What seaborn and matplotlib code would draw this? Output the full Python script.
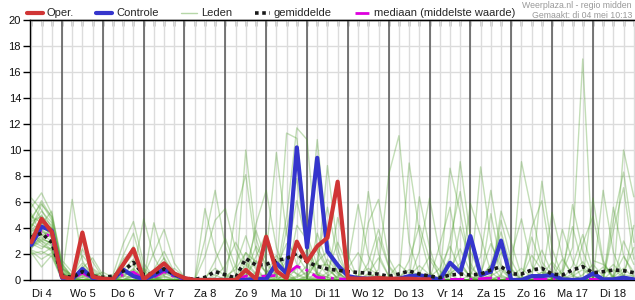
import matplotlib
matplotlib.use("Agg")
import matplotlib.pyplot as plt
import seaborn as sns
import pandas as pd
import numpy as np
from matplotlib.lines import Line2D

# ---------------- data (6-hourly steps, starting Di 4 06:00) ----------------
day_labels = ["Di 4", "Wo 5", "Do 6", "Vr 7", "Za 8", "Zo 9", "Ma 10", "Di 11",
              "Wo 12", "Do 13", "Vr 14", "Za 15", "Zo 16", "Ma 17", "Di 18"]
y_ticks = [0, 2, 4, 6, 8, 10, 12, 14, 16, 18, 20]

oper = [2.9, 4.7, 3.7, 0.25, 0.08, 3.65, 0.25, 0.1, 0.05, 1.2, 2.38, 0.05,
        0.65, 1.28, 0.5, 0.15, 0.0, 0.0, 0.0, 0.0, 0.0, 0.77, 0.08, 3.33,
        0.7, 0.13, 2.95, 1.41, 2.6, 3.25, 7.56, 0.13, 0.1, 0.1, 0.15, 0.1,
        0.1, 0.1, 0.05, 0.05]

controle = [2.7, 4.1, 3.8, 0.2, 0.05, 0.85, 0.15, 0.05, 0.05, 0.8, 0.3, 0.05,
            0.35, 0.85, 0.4, 0.1, 0.0, 0.0, 0.0, 0.0, 0.0, 0.0, 0.1, 0.05,
            1.3, 0.5, 10.2, 2.5, 9.4, 2.2, 1.15, 0.3, 0.15, 0.1, 0.1, 0.05,
            0.1, 0.3, 0.35, 0.25, 0.0, 1.33, 0.56, 3.38, 0.38, 0.64, 3.03, 0.0,
            0.0, 0.3, 0.3, 0.38, 0.05, 0.0, 0.05, 0.5, 0.05, 0.05, 0.18, 0.05]

gemiddelde = [3.3, 3.6, 2.9, 0.35, 0.2, 0.65, 0.3, 0.2, 0.3, 0.7, 1.35, 0.4,
              0.5, 0.85, 0.45, 0.15, 0.05, 0.2, 0.65, 0.4, 0.15, 1.65, 1.15, 1.2,
              1.5, 1.65, 2.05, 1.4, 1.05, 0.85, 0.75, 0.65, 0.58, 0.52, 0.45, 0.28,
              0.46, 0.69, 0.46, 0.3, 0.18, 0.38, 0.46, 0.38, 0.46, 0.77, 1.03, 0.46,
              0.46, 0.77, 0.9, 0.46, 0.38, 0.77, 1.03, 0.56, 0.64, 0.77, 0.72, 0.56]

mediaan = [3.0, 3.7, 3.3, 0.15, 0.05, 0.55, 0.1, 0.02, 0.05, 0.4, 0.6, 0.1,
           0.2, 0.65, 0.25, 0.05, 0.0, 0.0, 0.0, 0.0, 0.0, 0.3, 0.25, 0.3,
           0.35, 0.45, 1.05, 0.75, 0.2, 0.15, 0.1, 0.05, 0.1, 0.1, 0.05, 0.05,
           0.05, 0.05, 0.05, 0.05, 0.02, 0.05, 0.05, 0.05, 0.1, 0.15, 0.1, 0.05,
           0.05, 0.1, 0.1, 0.05, 0.05, 0.05, 0.05, 0.05, 0.05, 0.05, 0.05, 0.05]

lid01 = [3.4,4.6,3.8,0.6, 0.0,1.1,0.3,0.0, 0.1,0.8,1.6,0.2, 0.5,1.2,0.4,0.0, 0.0,0.0,0.0,0.3, 0.8,2.1,1.4,0.6, 1.0,2.8,1.9,0.7, 0.4,0.2,0.0,0.1, 0.3,0.9,0.4,0.0, 0.0,0.2,0.6,0.1, 0.0,0.4,1.3,0.2, 0.0,0.3,0.8,0.0, 0.0,0.2,0.6,0.1, 0.0,0.5,1.4,0.3, 0.0,0.2,0.9,0.2]
lid02 = [2.4,3.5,3.0,0.4, 0.0,0.4,0.1,0.0, 0.2,1.6,2.3,0.3, 0.1,0.6,0.2,0.0, 0.0,0.0,0.0,0.0, 0.0,0.5,2.6,1.2, 0.4,4.9,11.7,10.8, 2.2,0.8,0.2,0.0, 0.0,0.5,1.7,0.3, 0.0,0.0,0.0,0.2, 0.9,2.6,0.7,0.0, 0.0,0.0,0.3,0.0, 0.0,0.6,2.3,0.5, 0.0,0.0,0.0,0.0, 0.4,1.2,0.3,0.0]
lid03 = [4.2,5.3,4.4,1.2, 0.3,2.4,0.8,0.1, 0.0,0.2,0.9,0.1, 0.0,0.3,0.1,0.0, 0.0,0.0,0.2,1.1, 2.9,1.4,0.5,0.2, 0.6,11.3,10.9,3.5, 1.1,1.2,0.4,0.0, 0.0,0.0,0.2,0.0, 0.0,0.3,1.1,0.4, 0.0,0.0,0.1,0.0, 0.5,2.8,1.0,0.0, 0.0,0.0,0.0,0.2, 1.6,0.4,0.0,0.0, 0.0,0.3,1.8,0.6]
lid04 = [5.6,6.7,5.1,1.5, 0.6,3.0,1.4,0.2, 0.0,0.0,0.3,0.0, 0.0,0.0,0.0,0.0, 0.0,5.5,2.3,0.4, 0.1,0.9,3.8,1.5, 0.3,0.1,0.9,2.4, 10.8,3.1,0.5,0.1, 0.0,0.0,0.0,0.0, 0.2,0.8,0.3,0.0, 0.0,0.0,0.0,0.0, 0.0,0.0,0.4,1.9, 4.7,1.1,0.2,0.0, 0.0,0.0,0.0,0.3, 1.0,0.2,0.0,0.0]
lid05 = [3.0,2.6,2.4,0.2, 6.2,1.5,0.2,0.0, 0.0,0.4,0.7,0.2, 0.8,2.2,0.6,0.1, 0.0,0.0,0.0,0.0, 0.0,0.0,0.6,2.0, 9.8,3.5,1.2,0.3, 0.1,0.0,0.2,0.9, 2.1,0.6,0.0,0.0, 0.0,0.0,0.0,0.0, 0.3,1.7,9.1,3.3, 0.6,0.0,0.0,0.0, 0.0,0.0,0.3,1.4, 0.4,0.0,0.0,0.0, 0.0,0.0,0.6,2.5]
lid06 = [2.1,1.0,1.9,0.1, 0.0,0.0,0.0,0.0, 0.4,2.8,4.5,1.3, 0.2,0.0,0.0,0.0, 0.0,0.0,0.0,0.0, 0.0,1.2,0.4,0.0, 0.0,0.6,2.8,1.4, 0.5,0.0,0.0,0.0, 0.0,0.0,0.8,8.1, 11.1,2.9,0.4,0.0, 0.0,0.0,0.0,0.0, 0.0,0.4,2.1,0.8, 0.0,0.0,0.0,0.0, 0.0,1.1,3.5,0.7, 0.0,0.0,0.0,0.0]
lid07 = [3.8,4.1,3.5,0.8, 0.1,0.7,0.4,0.0, 0.0,0.0,0.6,4.7, 1.8,0.3,0.0,0.0, 0.0,0.2,0.9,0.3, 0.0,0.0,0.0,0.5, 1.9,0.7,0.0,0.2, 1.5,5.6,1.8,0.3, 0.0,0.0,0.0,0.3, 1.2,0.5,0.0,0.0, 0.0,0.7,2.4,0.6, 0.0,0.0,0.0,0.0, 0.0,0.0,7.6,2.4, 0.3,0.0,0.0,0.0, 0.0,0.8,0.2,0.0]
lid08 = [4.8,5.9,4.6,1.0, 0.2,1.9,0.9,0.3, 0.0,0.3,0.2,0.0, 4.4,1.6,0.3,0.0, 0.0,0.0,0.0,0.0, 0.0,0.3,1.5,0.6, 0.2,0.0,0.3,1.1, 2.6,0.9,0.1,0.0, 0.0,0.0,0.0,0.0, 0.0,0.0,2.2,6.3, 2.0,0.4,0.0,0.0, 0.0,0.0,0.0,0.3, 0.9,0.2,0.0,0.0, 0.0,0.0,0.0,0.0, 0.0,3.8,7.1,1.6]
lid09 = [2.7,3.2,2.8,0.3, 0.0,0.2,0.0,0.0, 0.0,0.0,0.0,0.3, 2.1,3.9,1.3,0.2, 0.0,0.0,0.0,0.0, 0.0,0.0,0.0,0.0, 0.5,1.8,6.1,2.7, 0.6,0.2,0.0,0.0, 0.0,1.3,3.9,1.1, 0.2,0.0,0.0,0.0, 0.0,0.0,0.0,0.4, 1.8,6.9,2.2,0.5, 0.0,0.0,0.0,0.0, 0.0,0.0,0.4,1.2, 0.3,0.0,0.0,0.0]
lid10 = [6.3,5.4,4.0,0.5, 0.0,0.0,0.3,0.6, 0.2,0.0,0.0,0.0, 0.0,0.5,0.2,0.0, 0.0,3.1,6.9,2.6, 0.4,0.0,0.0,0.0, 0.0,0.0,0.2,0.6, 1.3,0.4,0.0,0.0, 0.0,0.0,0.0,0.0, 0.0,0.0,0.0,0.0, 0.0,0.0,0.0,0.0, 0.3,1.1,0.2,0.0, 0.0,0.0,0.0,0.0, 0.6,2.5,17.0,1.5, 1.2,0.3,0.0,0.0]
lid11 = [3.1,3.9,3.3,0.2, 0.0,0.6,0.2,0.0, 0.0,0.5,1.2,0.4, 0.0,0.0,0.0,0.0, 0.0,0.0,0.0,0.0, 5.1,8.1,2.3,0.4, 0.0,0.0,0.0,0.0, 0.2,1.6,0.6,0.0, 0.0,0.0,0.0,0.0, 0.0,0.0,0.5,1.8, 0.7,0.0,0.0,0.0, 0.0,0.0,0.0,0.0, 0.2,1.9,0.8,0.1, 0.0,0.0,0.0,0.0, 0.0,0.0,10.0,6.4]
lid12 = [2.2,1.6,2.1,0.0, 0.0,0.0,0.0,0.0, 0.0,0.0,0.0,0.0, 0.0,0.0,0.0,0.0, 0.0,0.0,0.0,0.0, 0.0,0.0,0.0,0.0, 0.0,0.5,1.1,0.2, 0.0,0.0,0.0,0.0, 0.0,0.0,0.0,0.0, 0.0,0.0,0.0,0.0, 0.0,0.0,0.0,0.0, 0.0,0.0,0.0,0.0, 0.0,0.0,0.0,5.2, 1.8,0.3,0.0,0.0, 0.0,0.0,0.0,0.0]
lid13 = [4.5,4.9,4.2,0.9, 0.4,1.3,0.5,0.1, 0.3,1.1,2.0,0.5, 0.1,0.2,0.0,0.0, 0.0,0.0,0.4,0.0, 0.2,0.7,0.3,0.0, 0.4,0.8,0.5,0.1, 0.0,0.3,0.9,0.2, 0.0,0.4,0.2,0.0, 0.0,0.0,0.0,0.0, 0.0,0.5,1.0,0.3, 0.0,0.2,0.0,0.0, 0.0,0.0,0.6,0.4, 0.0,0.3,0.8,0.2, 0.0,0.0,0.4,0.3]
lid14 = [3.6,3.0,2.6,0.4, 0.0,0.0,0.0,0.0, 0.0,0.6,0.3,0.0, 0.0,0.0,0.0,0.0, 0.0,1.8,4.6,5.5, 2.4,0.6,0.0,0.0, 0.0,0.0,0.0,0.0, 0.0,0.0,0.3,1.2, 5.8,1.9,0.3,0.0, 0.0,0.0,0.0,0.0, 0.0,0.0,4.1,1.3, 0.0,0.0,0.0,0.0, 0.0,0.0,0.0,0.0, 0.0,0.0,0.0,0.0, 0.0,5.6,1.9,0.3]
lid15 = [5.1,3.4,3.9,0.7, 0.0,0.9,1.7,0.4, 0.0,0.0,0.0,0.0, 0.3,1.1,0.6,0.0, 0.0,0.0,0.0,0.0, 0.0,0.0,4.3,6.9, 2.5,0.3,0.0,0.0, 0.0,0.0,0.0,0.0, 0.0,0.0,0.0,0.0, 0.0,0.0,0.0,0.0, 0.0,8.6,5.2,1.0, 0.2,0.0,0.0,0.0, 0.0,0.0,0.0,0.0, 0.0,0.0,0.0,0.0, 0.0,0.0,0.0,0.0]
lid16 = [2.9,4.3,5.3,0.9, 0.0,0.0,0.0,0.0, 0.0,0.0,0.0,0.0, 0.0,0.0,0.0,0.0, 0.0,0.0,0.0,0.0, 0.0,10.0,3.2,0.8, 0.0,0.0,0.0,0.0, 0.0,0.0,0.0,0.0, 0.0,0.0,0.0,0.0, 0.0,0.0,0.0,0.0, 0.0,0.0,0.0,0.0, 8.7,3.1,0.4,0.0, 0.0,0.0,0.0,0.0, 0.0,0.0,0.0,0.0, 0.0,0.0,0.0,0.0]
lid17 = [4.0,5.8,4.9,1.3, 0.2,0.5,0.3,0.0, 0.0,1.9,3.6,0.8, 0.0,0.0,0.0,0.0, 0.0,0.0,0.0,0.0, 0.0,0.0,0.0,0.0, 0.2,1.5,0.4,0.0, 0.0,0.0,0.0,0.0, 0.0,0.0,0.0,0.0, 0.0,0.0,0.0,0.0, 0.0,0.0,0.0,0.0, 0.0,0.0,0.0,0.0, 9.1,5.3,1.4,0.3, 0.0,0.0,0.0,0.0, 0.0,0.0,0.0,0.0]
lid18 = [2.0,2.2,1.8,0.0, 0.0,0.0,0.0,0.0, 0.0,0.0,0.0,0.0, 0.0,0.0,0.0,0.0, 0.0,0.0,0.0,0.0, 0.0,0.0,0.0,0.0, 0.0,0.0,0.0,0.0, 0.0,0.0,0.0,0.0, 0.0,0.0,0.0,0.0, 0.0,9.0,3.7,0.6, 0.0,0.0,0.0,0.0, 0.0,0.0,0.0,0.0, 0.0,0.0,0.0,0.0, 0.0,0.0,0.0,6.3, 1.5,0.0,0.0,0.0]
lid19 = [3.3,3.7,3.4,0.5, 0.0,0.0,0.0,0.0, 0.0,0.0,0.0,0.0, 0.0,0.0,0.0,0.0, 0.0,0.0,0.0,0.0, 0.0,0.0,0.0,0.0, 0.0,0.0,0.0,0.0, 0.6,8.8,2.4,0.2, 0.0,0.0,0.0,0.0, 0.0,0.0,0.0,0.0, 0.0,0.0,0.0,0.0, 0.0,5.1,1.2,0.0, 0.0,0.0,0.0,0.0, 0.0,0.0,0.0,0.0, 0.0,0.0,0.0,0.0]
lid20 = [3.9,4.4,4.0,0.6, 0.0,0.3,0.0,0.0, 0.0,0.0,0.0,0.0, 0.0,0.0,0.0,0.0, 0.0,0.0,0.0,0.0, 0.0,0.0,0.0,0.0, 0.0,0.0,0.0,0.0, 0.0,0.0,0.0,0.0, 0.0,6.8,2.0,0.3, 0.0,0.0,0.0,0.0, 0.0,0.0,0.0,0.0, 0.0,0.0,0.0,0.0, 0.0,0.0,0.0,0.0, 0.0,0.0,0.0,0.0, 6.9,2.1,0.3,0.0]
lid21 = [2.6,3.1,2.9,0.3, 0.0,0.0,0.0,0.0, 0.0,0.0,0.0,0.0, 0.0,0.0,0.0,0.0, 0.0,0.0,0.0,0.0, 0.0,2.1,0.8,0.0, 0.0,0.0,0.0,0.0, 0.0,0.0,0.0,0.0, 0.0,0.0,3.3,1.0, 0.0,0.0,0.0,0.0, 0.0,0.0,0.0,0.0, 0.0,0.0,4.6,1.5, 0.0,0.0,0.0,0.0, 0.0,0.0,0.0,0.0, 0.0,0.0,0.0,4.2]
lid22 = [4.3,3.8,3.2,0.2, 0.0,0.0,0.0,0.0, 0.0,0.0,0.0,0.0, 0.0,0.0,0.0,0.0, 0.0,0.0,0.0,0.0, 0.0,0.0,0.0,0.0, 0.0,0.0,0.0,0.3, 1.4,2.2,0.6,0.0, 0.0,0.0,0.0,0.0, 0.0,0.0,0.0,0.0, 0.0,3.1,6.8,2.2, 0.4,0.0,0.0,0.0, 0.0,0.0,0.0,0.0, 0.0,0.0,0.0,0.0, 0.0,0.0,0.0,0.0]
lid23 = [5.9,4.7,3.6,0.4, 0.0,0.0,0.0,0.0, 0.0,0.0,0.0,0.0, 0.0,0.0,0.0,0.0, 0.0,0.0,0.0,0.0, 1.1,3.4,1.0,0.0, 0.0,0.0,0.0,0.0, 0.0,0.0,0.0,0.0, 0.0,0.0,0.0,0.0, 0.0,0.0,0.0,0.0, 0.0,0.0,0.0,0.0, 0.0,0.0,0.0,0.0, 0.0,0.0,0.0,0.0, 0.0,5.8,2.2,0.4, 0.0,0.0,0.0,0.0]
lid24 = [2.3,2.0,2.5,0.2, 0.0,0.0,0.0,0.0, 0.0,0.0,0.0,0.0, 0.0,0.0,0.0,0.0, 0.0,0.0,0.0,0.0, 0.0,0.0,0.0,0.0, 0.0,0.0,0.0,0.0, 0.0,0.0,4.8,2.0, 0.0,0.0,0.0,0.0, 0.0,0.0,0.0,0.0, 0.0,0.0,0.0,5.9, 3.4,0.6,0.0,0.0, 0.0,0.0,0.0,0.0, 0.0,0.0,0.0,0.0, 0.0,0.0,3.0,1.2]
lid25 = [3.5,2.8,2.2,0.1, 0.0,0.2,0.6,0.2, 0.0,0.0,0.4,0.9, 0.3,0.0,0.0,0.0, 0.0,0.0,0.0,0.0, 0.0,0.4,0.0,0.0, 0.0,0.0,4.2,3.1, 0.4,0.0,0.0,0.0, 0.0,0.0,0.0,0.0, 0.0,0.0,0.0,0.0, 0.0,0.0,0.0,0.0, 0.0,0.0,0.0,0.0, 0.0,4.0,6.1,1.2, 0.0,0.0,0.0,0.0, 0.0,0.0,0.0,0.0]
lid26 = [4.6,6.1,4.8,1.1, 0.2,0.0,0.0,0.0, 0.0,0.0,0.0,0.0, 0.0,0.0,0.0,0.0, 0.0,0.0,0.0,0.0, 0.0,0.0,0.0,0.0, 0.0,0.0,0.0,0.0, 0.0,0.0,0.0,0.0, 0.0,0.0,0.0,0.0, 0.0,0.0,6.4,2.5, 0.0,0.0,0.0,0.0, 0.0,0.0,0.0,0.0, 0.0,0.0,0.0,0.0, 3.9,1.5,0.0,0.0, 0.0,0.0,0.0,0.0]
lid27 = [3.0,3.3,2.7,0.4, 0.1,0.4,0.2,0.0, 0.0,0.3,0.8,0.3, 0.0,0.4,0.9,0.2, 0.0,0.0,0.0,0.0, 0.0,0.3,1.8,3.6, 1.2,0.4,0.0,0.0, 0.0,0.6,2.9,1.1, 0.2,0.0,0.0,0.0, 0.0,1.5,4.2,1.6, 0.3,0.0,0.0,0.0, 0.0,1.2,3.7,0.9, 0.0,0.0,0.0,0.0, 0.0,0.0,2.8,4.9, 1.3,0.2,0.0,0.0]
lid28 = [4.1,5.0,3.7,0.9, 0.2,0.8,0.5,0.1, 0.0,0.0,0.2,0.0, 0.0,0.0,0.0,0.0, 0.0,0.0,1.5,3.2, 1.0,0.2,0.0,0.0, 0.0,3.9,7.8,2.3, 0.4,0.0,0.0,0.0, 0.0,0.0,0.0,0.0, 0.0,0.0,0.0,0.0, 2.7,5.6,1.4,0.2, 0.0,0.0,0.0,0.0, 0.0,3.3,1.0,0.0, 0.0,0.0,0.0,0.0, 0.0,0.0,0.0,0.0]
lid29 = [2.8,2.4,3.1,0.6, 0.0,0.0,0.0,0.0, 0.0,1.1,2.6,0.7, 0.0,0.0,0.0,0.0, 0.0,0.0,0.0,0.0, 0.0,0.0,0.0,0.0, 0.0,0.0,0.0,0.0, 0.0,0.0,0.0,0.0, 0.0,4.4,6.2,1.7, 0.2,0.0,0.0,0.0, 0.0,0.0,0.0,0.0, 0.0,0.0,0.0,0.0, 0.0,0.0,0.0,0.0, 0.8,4.1,1.1,0.0, 0.0,0.0,0.0,0.0]
lid30 = [3.7,4.2,3.6,0.3, 0.0,0.0,0.0,0.0, 0.0,0.0,0.0,0.0, 0.0,0.0,0.0,0.0, 0.0,0.0,0.0,0.0, 0.0,0.0,0.0,0.0, 0.0,0.0,0.0,0.0, 3.6,1.2,0.0,0.0, 0.0,0.0,0.0,0.0, 0.0,0.0,0.0,0.0, 0.0,0.0,0.0,0.0, 0.0,0.0,0.0,0.0, 0.0,0.0,0.0,0.0, 0.0,0.0,0.0,0.0, 0.0,4.6,8.3,2.9]
lid31 = [2.5,3.0,2.3,0.2, 0.0,0.0,0.0,0.0, 0.0,0.0,0.0,0.0, 0.6,1.7,0.5,0.0, 0.0,0.0,0.0,0.0, 0.0,0.0,0.0,0.0, 0.0,0.0,0.0,0.0, 0.0,0.0,0.0,0.0, 0.0,0.0,0.0,0.0, 0.0,0.0,0.0,0.0, 0.0,0.0,0.0,0.0, 0.0,0.0,5.3,2.9, 0.3,0.0,0.0,0.0, 0.0,0.0,0.0,0.0, 0.0,0.0,0.0,0.0]
lid32 = [4.9,4.4,3.3,0.5, 0.0,0.0,0.0,0.0, 0.0,0.0,0.0,0.0, 0.0,0.0,0.0,0.0, 0.0,0.0,0.0,0.0, 0.0,0.0,0.0,0.0, 0.0,0.0,0.0,0.0, 0.0,0.0,0.0,0.0, 0.0,0.0,0.0,0.0, 0.0,0.0,0.0,0.0, 0.0,0.0,0.0,0.0, 0.0,0.0,0.0,0.0, 0.0,0.0,0.0,0.0, 0.0,0.0,0.0,0.0, 0.0,0.0,0.0,0.0]

leden = [lid01, lid02, lid03, lid04, lid05, lid06, lid07, lid08, lid09, lid10,
         lid11, lid12, lid13, lid14, lid15, lid16, lid17, lid18, lid19, lid20,
         lid21, lid22, lid23, lid24, lid25, lid26, lid27, lid28, lid29, lid30,
         lid31, lid32]

n_steps = len(controle)
for m in leden:
    assert len(m) == n_steps, len(m)

# ---------------- styling ----------------
sns.set_style("white")
plt.rcParams["font.family"] = ["Liberation Sans", "DejaVu Sans"]

C_OPER = "#d03535"
C_CTRL = "#3535cc"
C_LID = "#4a9c26"
C_MED = "#dd00dd"

fig = plt.figure(figsize=(6.35, 3.0), dpi=100)
ax = fig.add_axes([30 / 635, 20 / 300, 605 / 635, 260 / 300])

steps = np.arange(n_steps)

rows = []
for k, m in enumerate(leden):
    for s, v in zip(steps, m):
        rows.append({"stap": s, "mm": v, "lid": k})
df_leden = pd.DataFrame(rows)

sns.lineplot(data=df_leden, x="stap", y="mm", units="lid", estimator=None,
             color=C_LID, alpha=0.33, lw=1.0, ax=ax, legend=False, zorder=3)
sns.lineplot(x=steps, y=mediaan, estimator=None, color=C_MED, lw=2.0,
             linestyle=(0, (5, 2, 1, 2)), ax=ax, zorder=4)
sns.lineplot(x=steps, y=controle, estimator=None, color=C_CTRL, lw=3.0, ax=ax, zorder=5)
sns.lineplot(x=steps, y=gemiddelde, estimator=None, color="#1a1a1a", lw=2.6,
             linestyle=(0, (1, 1)), ax=ax, zorder=6)
sns.lineplot(x=steps[:len(oper)], y=oper, estimator=None, color=C_OPER, lw=3.0, ax=ax, zorder=7)

# axes range
ax.set_xlim(-0.13, 59.12)
ax.set_ylim(0, 20)

# grid
ax.set_xticks(steps)
noon = {1 + 4 * k: lab for k, lab in enumerate(day_labels)}
ax.set_xticklabels([noon.get(int(s), "") for s in steps])
ax.set_yticks(y_ticks)
ax.set_yticklabels([str(v) for v in y_ticks])
ax.grid(True, color="#dcdcdc", lw=1.0)
ax.set_axisbelow(True)
for k in range(len(day_labels) - 1):
    ax.axvline(3 + 4 * k, color="#555555", lw=1.1, zorder=2)

ax.set_xlabel("")
ax.set_ylabel("")
ax.tick_params(axis="x", direction="out", length=5, width=1, color="black",
               labelsize=8, pad=1.5, labelcolor="#111111")
ax.tick_params(axis="y", direction="out", length=5, width=1, color="black",
               labelsize=8, pad=1.5, labelcolor="#111111", left=True)
for side in ["left", "bottom", "top"]:
    ax.spines[side].set_visible(True)
    ax.spines[side].set_color("black")
    ax.spines[side].set_linewidth(1.0)
ax.spines["right"].set_visible(False)

top = ax.secondary_xaxis("top")
top.set_xticks(steps)
top.set_xticklabels([])
top.tick_params(direction="in", length=4, width=1, color="black")
top.spines["top"].set_linewidth(1.0)

# legend
handles = [
    Line2D([], [], color=C_OPER, lw=3),
    Line2D([], [], color=C_CTRL, lw=3),
    Line2D([], [], color=C_LID, lw=1, alpha=0.4),
    Line2D([], [], color="#1a1a1a", lw=2.6, linestyle=(0, (1, 1))),
    Line2D([], [], color=C_MED, lw=2, linestyle=(0, (5, 2, 1, 2))),
]
labels = ["Oper.", "Controle", "Leden", "gemiddelde", "mediaan (middelste waarde)"]
fig.legend(handles, labels, loc="center left", bbox_to_anchor=(27 / 635, 1 - 13.5 / 300),
           ncol=5, frameon=False, fontsize=8, handlelength=1.4, handletextpad=0.35,
           columnspacing=2.05, borderpad=0, borderaxespad=0)

fig.text(632 / 635, 1 - 0.5 / 300, "Weerplaza.nl - regio midden", ha="right", va="top",
         fontsize=6.3, color="#999999")
fig.text(632 / 635, 1 - 10.5 / 300, "Gemaakt: di 04 mei 10:13", ha="right", va="top",
         fontsize=6.3, color="#999999")

fig.savefig("out.png", dpi=100)
